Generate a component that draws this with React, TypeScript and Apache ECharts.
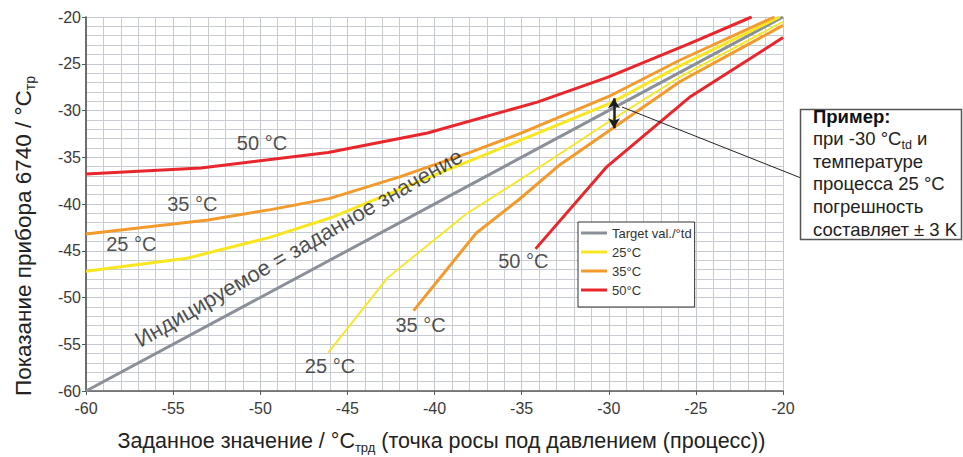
import React, { useEffect, useRef } from "react";
import * as echarts from "echarts";

const FONT = '"Liberation Sans", Arial, Helvetica, sans-serif';

// Axis range / ticks
const X_MIN = -60;
const X_MAX = -20;
const Y_MIN = -60;
const Y_MAX = -20;
const TICK_STEP = 5;

// Series data [set value, indicated value]
const TARGET: number[][] = [[-60, -60], [-20, -20]];

const T25_UPPER: number[][] = [
  [-60, -47.2], [-54.2, -45.8], [-49.5, -43.6], [-46, -41.5], [-40.25, -37.1],
  [-36.8, -34.5], [-30, -29.3], [-25.9, -25.2], [-20.2, -20],
];
const T25_LOWER: number[][] = [
  [-46.1, -55.9], [-42.7, -47.9], [-38.2, -41.1], [-34, -36.1],
  [-30, -31.2], [-25.9, -26.4], [-20, -20.5],
];
const T35_UPPER: number[][] = [
  [-60, -43.2], [-53, -41.7], [-49.4, -40.6], [-46, -39.4], [-42, -37.1],
  [-38, -34.5], [-35, -32.4], [-30, -28.5], [-25.9, -24.6], [-20.5, -20],
];
const T35_LOWER: number[][] = [
  [-41.2, -51.4], [-37.6, -43.1], [-35.2, -39.6], [-32.8, -35.8],
  [-30, -32.2], [-25.9, -26.9], [-20, -20.9],
];
const T50_UPPER: number[][] = [
  [-60, -36.8], [-53.4, -36.15], [-46.1, -34.5], [-40.4, -32.4],
  [-34.1, -29.1], [-30, -26.4], [-25.3, -22.8], [-21.8, -20],
];
const T50_LOWER: number[][] = [
  [-34.2, -44.8], [-30.1, -36.0], [-25.3, -28.5], [-20, -22.2],
];

const LEGEND_NAMES = ["Target val./°td", "25°C", "35°C", "50°C"];
const COLORS = ["#8a9097", "#f8e620", "#f39a2c", "#e8262c"];

// In-chart labels (data coordinates)
const LABELS = [
  { text: "50 °C", x: -49.9, y: -33.5, rot: 0, size: 20 },
  { text: "35 °C", x: -53.9, y: -40.0, rot: 0, size: 20 },
  { text: "25 °C", x: -57.4, y: -44.3, rot: 0, size: 20 },
  { text: "Индицируемое = заданное значение", x: -47.8, y: -44.7, rot: 30, size: 22 },
  { text: "25 °C", x: -46.0, y: -57.3, rot: 0, size: 20 },
  { text: "35 °C", x: -40.8, y: -52.9, rot: 0, size: 20 },
  { text: "50 °C", x: -34.9, y: -46.1, rot: 0, size: 20 },
];

// Error arrow at -30 °C (data coordinates)
const ARROW_X = -29.7;
const ARROW_TOP = -28.7;
const ARROW_BOTTOM = -31.9;

const NOTE_LINES = [
  "{b|Пример:}",
  "{n|при -30 °C}{s|td}{n| и}",
  "{n|температуре}",
  "{n|процесса 25 °C}",
  "{n|погрешность}",
  "{n|составляет ± 3 K}",
];

function lineSeries(name: string, data: number[][], color: string, width: number, extra: any = {}) {
  return {
    name,
    type: "line",
    data,
    symbol: "none",
    showSymbol: false,
    clip: true,
    lineStyle: { color, width, cap: "butt", join: "round" },
    itemStyle: { color },
    emphasis: { disabled: true },
    ...extra,
  };
}

export default function App() {
  const ref = useRef<HTMLDivElement>(null);

  useEffect(() => {
    document.body.style.margin = "0";
    if (!ref.current) return;
    const chart = echarts.init(ref.current, undefined, { renderer: "svg" });

    const axisCommon = {
      type: "value",
      interval: TICK_STEP,
      axisLine: { show: true, onZero: false, lineStyle: { color: "#5a5a5a", width: 1.7 } },
      axisTick: { show: true, length: 4, lineStyle: { color: "#5a5a5a", width: 1 } },
      axisLabel: { color: "#3a3a3a", fontSize: 16, fontFamily: FONT },
      splitLine: { show: true, lineStyle: { color: "#c4c8cf", width: 1 } },
      minorTick: { show: false, splitNumber: 5 },
      minorSplitLine: { show: true, lineStyle: { color: "#c9ccd3", width: 1 } },
    };

    const xRich = {
      m: { fontSize: 21.5, fontFamily: FONT, color: "#222", lineHeight: 24, verticalAlign: "top" },
      s: { fontSize: 13, fontFamily: FONT, color: "#222", lineHeight: 13, padding: [13, 0, 0, 0], verticalAlign: "bottom" },
    };
    const yRich = {
      m: { fontSize: 22.5, fontFamily: FONT, color: "#222", lineHeight: 25, verticalAlign: "top" },
      s: { fontSize: 14, fontFamily: FONT, color: "#222", lineHeight: 14, padding: [13, 0, 0, 0], verticalAlign: "bottom" },
    };

    const option: any = {
      animation: false,
      backgroundColor: "#ffffff",
      textStyle: { fontFamily: FONT },
      grid: { left: 86, right: 180, top: 17, bottom: 66, containLabel: false, outerBoundsMode: "none" },
      xAxis: {
        ...axisCommon,
        min: X_MIN,
        max: X_MAX,
        axisLabel: { ...axisCommon.axisLabel, margin: 9 },
        name: "{m|Заданное значение / °C}{s|трд}{m| (точка росы под давлением (процесс))}",
        nameLocation: "middle",
        nameGap: 39,
        nameTextStyle: { color: "#222", padding: [0, 0, 0, 14], rich: xRich },
      },
      yAxis: {
        ...axisCommon,
        min: Y_MIN,
        max: Y_MAX,
        axisLabel: { ...axisCommon.axisLabel, margin: 5 },
        name: "{m|Показание прибора 6740 / °C}{s|тр}",
        nameLocation: "middle",
        nameGap: 49,
        nameRotate: 90,
        nameTextStyle: { color: "#222", padding: [0, 64, 0, 0], rich: yRich },
      },
      legend: {
        data: LEGEND_NAMES,
        orient: "vertical",
        left: 578,
        top: 222,
        icon: "rect",
        itemWidth: 26,
        itemHeight: 3,
        itemGap: 5,
        padding: [4, 3, 10, 3],
        backgroundColor: "#ffffff",
        borderColor: "#333333",
        borderWidth: 1,
        selectedMode: false,
        textStyle: { fontSize: 13, color: "#333", fontFamily: FONT, lineHeight: 14 },
      },
      series: [
        lineSeries(LEGEND_NAMES[0], TARGET, COLORS[0], 3, {
          markLine: {
            silent: true,
            symbol: ["arrow", "arrow"],
            symbolSize: [9, 10],
            label: { show: false },
            lineStyle: { color: "#1e1e1e", width: 2.5, type: "solid" },
            data: [[{ coord: [ARROW_X, ARROW_TOP] }, { coord: [ARROW_X, ARROW_BOTTOM] }]],
          },
        }),
        lineSeries(LEGEND_NAMES[1], T25_UPPER, COLORS[1], 3),
        lineSeries(LEGEND_NAMES[1], T25_LOWER, COLORS[1], 1.8),
        lineSeries(LEGEND_NAMES[2], T35_UPPER, COLORS[2], 3),
        lineSeries(LEGEND_NAMES[2], T35_LOWER, COLORS[2], 3),
        lineSeries(LEGEND_NAMES[3], T50_UPPER, COLORS[3], 3),
        lineSeries(LEGEND_NAMES[3], T50_LOWER, COLORS[3], 3),
        {
          name: "labels",
          type: "scatter",
          symbolSize: 0,
          silent: true,
          z: 5,
          data: LABELS.map((l) => ({
            value: [l.x, l.y],
            label: { show: true, formatter: l.text, rotate: l.rot, fontSize: l.size },
          })),
          label: {
            show: true,
            position: "inside",
            fontSize: 20,
            color: "#222",
            fontFamily: FONT,
          },
        },
      ],
      graphic: [
        {
          type: "line",
          shape: { x1: 622, y1: 107, x2: 801, y2: 178 },
          style: { stroke: "#222", lineWidth: 1 },
          z: 10,
        },
        {
          type: "rect",
          shape: { x: 800.5, y: 109.5, width: 161, height: 130 },
          style: { fill: "#ffffff", stroke: "#555", lineWidth: 1.5 },
          z: 10,
        },
        {
          type: "text",
          x: 813,
          y: 106.5,
          z: 11,
          style: {
            text: NOTE_LINES.join("\n"),
            fill: "#222",
            font: `18.5px ${FONT}`,
            rich: {
              b: { fontSize: 18.5, fontWeight: "bold", fontFamily: FONT, fill: "#111", lineHeight: 22.6, verticalAlign: "top" },
              n: { fontSize: 18.5, fontFamily: FONT, fill: "#222", lineHeight: 22.6, verticalAlign: "top" },
              s: { fontSize: 12.5, fontFamily: FONT, fill: "#222", lineHeight: 12.5, padding: [10.1, 0, 0, 0], verticalAlign: "bottom" },
            },
          },
        },
      ],
    };

    chart.setOption(option);
    return () => chart.dispose();
  }, []);

  return <div ref={ref} style={{ width: 963, height: 457 }} />;
}
